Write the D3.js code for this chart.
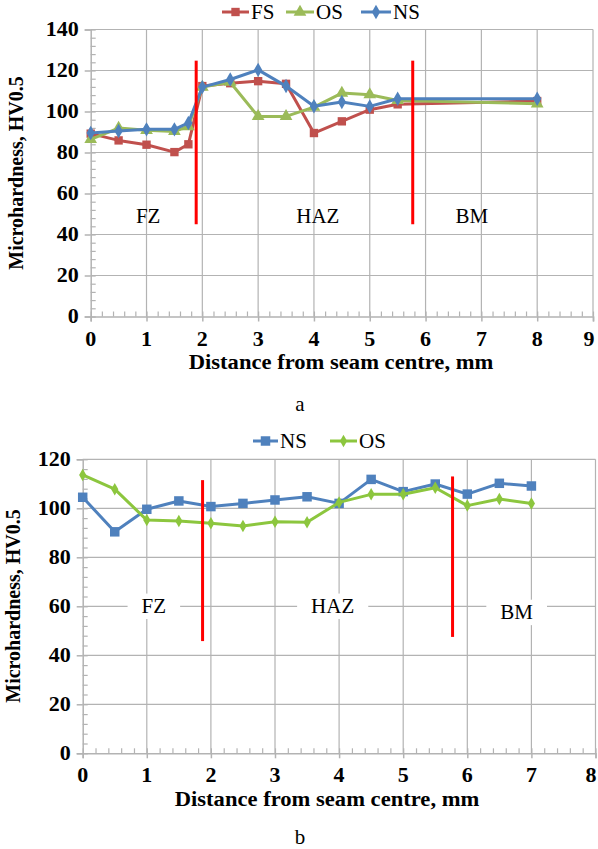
<!DOCTYPE html>
<html><head><meta charset="utf-8">
<script src="https://cdn.jsdelivr.net/npm/d3@7"></script>
<style>body{margin:0;background:#fff}svg{display:block}</style>
</head><body>
<svg id="c" width="598" height="849" font-family="'Liberation Serif', 'Times New Roman', Times, 'DejaVu Serif', serif"></svg>
<script>
// ---- Data: chart a ----
const distA = [0, 0.5, 1, 1.5, 1.75, 2, 2.5, 3, 3.5, 4, 4.5, 5, 5.5, 8];
const fsA = [89.2, 85.9, 83.8, 80.2, 84, 112.4, 113.8, 114.8, 113.5, 89.5, 95.2, 100.9, 103.5, 105.1];
const osA = [86.4, 91.9, 90.8, 90.3, 92.7, 111.9, 114.3, 97.6, 97.6, 102.1, 109, 108.2, 105.4, 103.8];
const nsA = [89.5, 90.5, 91.3, 91.3, 94.4, 111.9, 115.6, 120.3, 112.4, 102.6, 104.6, 102.5, 106.2, 106.2];
const zonesA = [1.89, 5.77];
const zoneRangeA = [45, 124.8];
const xTicksA = [0,1,2,3,4,5,6,7,8,9];
const yTicksA = [0,20,40,60,80,100,120,140];
// ---- Data: chart b ----
const distB = [0, 0.5, 1, 1.5, 2, 2.5, 3, 3.5, 4, 4.5, 5, 5.5, 6, 6.5, 7];
const nsB = [104.5, 90.4, 99.6, 103, 100.7, 102, 103.4, 104.7, 102, 111.8, 106.8, 109.9, 105.8, 110.2, 109.1];
const osB = [113.6, 107.8, 95.2, 94.8, 93.9, 92.8, 94.5, 94.3, 102.4, 105.7, 105.7, 108.4, 101.1, 103.8, 102];
const zonesB = [1.87, 5.77];
const zoneRangeB = [[45.8, 111.5], [47.5, 113]];
const xTicksB = [0,1,2,3,4,5,6,7,8];
const yTicksB = [0,20,40,60,80,100,120];
const zoneLabels = ["FZ", "HAZ", "BM"];

const FONT = "'Liberation Serif', 'Times New Roman', Times, 'DejaVu Serif', serif";
const SX = 1.1; // horizontal stretch of the reference image
const svg = d3.select("#c");
const GRID = "#b3b3b3";
const RED = "#c0504d", GREENA = "#9bbb59", BLUE = "#4f81bd", GREENB = "#8cc63e";

function txt(g, x, y, sx) {
  return g.append("text").attr("font-family", FONT).attr("fill", "#000")
    .attr("transform", `translate(${x},${y}) scale(${sx || SX},1)`);
}

function panel(cfg) {
  const g = svg.append("g");
  const x = d3.scaleLinear().domain(cfg.xdom).range(cfg.xr);
  const y = d3.scaleLinear().domain(cfg.ydom).range(cfg.yr);
  // gridlines
  g.selectAll(".hg").data(cfg.yTicks.filter(v => v > 0)).join("line")
    .attr("x1", cfg.xr[0]).attr("x2", cfg.xr[1]).attr("y1", d => y(d)).attr("y2", d => y(d))
    .attr("stroke", GRID).attr("stroke-width", 1.2);
  g.selectAll(".vg").data(cfg.xTicks.filter(v => v > 0)).join("line")
    .attr("x1", d => x(d)).attr("x2", d => x(d)).attr("y1", cfg.yr[0]).attr("y2", cfg.yr[1])
    .attr("stroke", GRID).attr("stroke-width", 1.2);
  // zone labels
  cfg.labels.forEach((l, i) => {
    const t = txt(g, x(l.x), y(l.v), 1.05).attr("text-anchor", "middle")
      .attr("dominant-baseline", "central").attr("font-size", 20).text(zoneLabels[i]);
    if (cfg.labelBg) {
      const bb = t.node().getBBox();
      const w = bb.width * 1.05;
      g.insert("rect", "text").attr("x", x(l.x) - w / 2 - cfg.labelPad).attr("y", y(l.v) + bb.y - 2)
        .attr("width", w + 2 * cfg.labelPad).attr("height", bb.height + 4).attr("fill", "#fff");
    }
  });
  // x axis
  const xa = d3.axisBottom(x).tickValues(cfg.xTicks).tickSize(5).tickFormat("");
  g.append("g").attr("transform", `translate(0,${cfg.yr[0]})`).call(xa)
    .call(s => { s.select(".domain").attr("stroke", GRID).attr("stroke-width", 1.5); s.selectAll("line").attr("stroke", GRID).attr("stroke-width", 1.5); });
  const xm = d3.axisTop(x).tickValues(d3.range(cfg.xdom[0], cfg.xdom[1] + 1e-9, 0.2)).tickSize(5).tickFormat("");
  g.append("g").attr("transform", `translate(0,${cfg.yr[0]})`).call(xm)
    .call(s => { s.select(".domain").remove(); s.selectAll("line").attr("stroke", GRID).attr("stroke-width", 1.2); });
  // y axis
  const ya = d3.axisLeft(y).tickValues(cfg.yTicks).tickSize(6).tickFormat("");
  g.append("g").attr("transform", `translate(${cfg.xr[0]},0)`).call(ya)
    .call(s => { s.select(".domain").attr("stroke", GRID).attr("stroke-width", 1.5); s.selectAll("line").attr("stroke", GRID).attr("stroke-width", 1.5); });
  const ym = d3.axisRight(y).tickValues(d3.range(cfg.ydom[0], cfg.ydom[1] + 1e-9, 4)).tickSize(5).tickFormat("");
  g.append("g").attr("transform", `translate(${cfg.xr[0]},0)`).call(ym)
    .call(s => { s.select(".domain").remove(); s.selectAll("line").attr("stroke", GRID).attr("stroke-width", 1.2); });
  // tick labels
  cfg.xTicks.forEach(d => {
    txt(g, Math.min(x(d), cfg.xLabelMax), cfg.yr[0] + cfg.xLabelDy)
      .attr("text-anchor", "middle").attr("font-size", 20).attr("font-weight", "bold").text(d);
  });
  cfg.yTicks.forEach(d => {
    txt(g, cfg.xr[0] - 12, y(d))
      .attr("dominant-baseline", "central").attr("text-anchor", "end").attr("font-size", 20).attr("font-weight", "bold").text(d);
  });
  // axis titles
  txt(g, cfg.xTitle[0], cfg.xTitle[1], 1.13).attr("text-anchor", "middle")
    .attr("font-size", 20).attr("font-weight", "bold").text("Distance from seam centre, mm");
  g.append("text").attr("font-family", FONT).attr("fill", "#000")
    .attr("transform", `translate(${cfg.yTitle[0]},${cfg.yTitle[1]}) rotate(-90)`).attr("text-anchor", "middle")
    .attr("font-size", 20).attr("font-weight", "bold").text("Microhardness, HV0.5");
  // series
  const line = d3.line().x(d => x(d[0])).y(d => y(d[1]));
  cfg.series.forEach(s => {
    const pts = cfg.dist.map((d, i) => [d, s.vals[i]]);
    g.append("path").attr("d", line(pts)).attr("fill", "none").attr("stroke", s.color).attr("stroke-width", 3).attr("stroke-linejoin", "round");
    g.selectAll(null).data(pts).join("path")
      .attr("transform", d => `translate(${x(d[0])},${y(d[1])})`)
      .attr("d", d3.symbol().type(s.sym).size(s.size)).attr("fill", s.color);
  });
  // zone lines
  cfg.zones.forEach((z, i) => {
    const r = cfg.zoneRange(i);
    g.append("line").attr("x1", x(z)).attr("x2", x(z)).attr("y1", y(r[0])).attr("y2", y(r[1]))
      .attr("stroke", "#ff0000").attr("stroke-width", 3);
  });
  // legend
  cfg.legend.forEach(l => {
    const s = cfg.series[l.i];
    g.append("line").attr("x1", l.x).attr("x2", l.x + l.w).attr("y1", cfg.legendY).attr("y2", cfg.legendY)
      .attr("stroke", s.color).attr("stroke-width", 3);
    g.append("path").attr("transform", `translate(${l.x + l.w / 2},${cfg.legendY})`)
      .attr("d", d3.symbol().type(s.sym).size(s.size)).attr("fill", s.color);
    txt(g, l.x + l.w + 2, cfg.legendY, 1.05).attr("dominant-baseline", "central")
      .attr("font-size", 20).text(s.name);
  });
  txt(svg, cfg.caption[0], cfg.caption[1], 1.05).attr("text-anchor", "middle")
    .attr("font-size", 20).text(cfg.captionText);
}

panel({
  xdom: [0, 9], xr: [90.7, 593], ydom: [0, 140], yr: [316.5, 29.5],
  xTicks: xTicksA, yTicks: yTicksA, dist: distA, xLabelDy: 29, xLabelMax: 589,
  labels: [{x: 1.03, v: 49}, {x: 4.07, v: 49}, {x: 6.83, v: 49}], labelBg: false, labelPad: 0,
  xTitle: [341, 369], yTitle: [23, 173],
  series: [
    {name: "FS", vals: fsA, color: RED, sym: d3.symbolSquare, size: 70},
    {name: "OS", vals: osA, color: GREENA, sym: d3.symbolTriangle, size: 70},
    {name: "NS", vals: nsA, color: BLUE, sym: d3.symbolDiamond, size: 60}
  ],
  zones: zonesA, zoneRange: () => zoneRangeA,
  legendY: 12, legend: [{i: 0, x: 222, w: 27}, {i: 1, x: 286, w: 28}, {i: 2, x: 361, w: 30}],
  caption: [300, 411], captionText: "a"
});

panel({
  xdom: [0, 8], xr: [82.7, 595.5], ydom: [0, 120], yr: [753.3, 459.3],
  xTicks: xTicksB, yTicks: yTicksB, dist: distB, xLabelDy: 29, xLabelMax: 591,
  labels: [{x: 1.11, v: 60}, {x: 3.9, v: 60}, {x: 6.77, v: 57.5}], labelBg: true, labelPad: 14,
  xTitle: [327, 806], yTitle: [20, 606],
  series: [
    {name: "NS", vals: nsB, color: BLUE, sym: d3.symbolSquare, size: 90},
    {name: "OS", vals: osB, color: GREENB, sym: d3.symbolDiamond, size: 45}
  ],
  zones: zonesB, zoneRange: i => zoneRangeB[i],
  legendY: 441, legend: [{i: 0, x: 253, w: 25}, {i: 1, x: 330, w: 27}],
  caption: [300, 844], captionText: "b"
});
</script>
</body></html>
